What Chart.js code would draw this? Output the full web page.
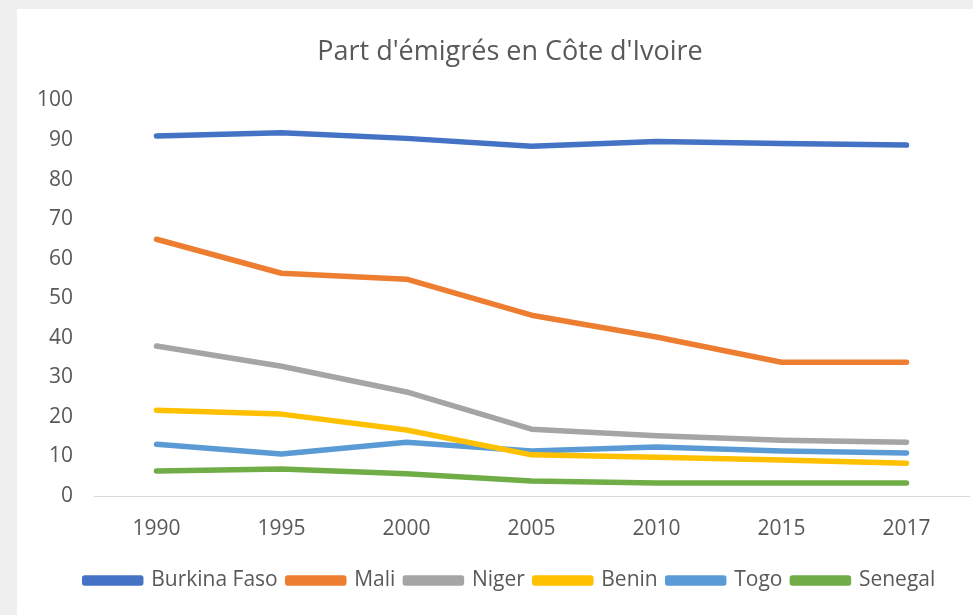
<!DOCTYPE html>
<html>
<head>
<meta charset="utf-8">
<script src="https://cdn.jsdelivr.net/npm/chart.js@4.4.0/dist/chart.umd.min.js"></script>
<style>
  html, body { margin: 0; padding: 0; background: #efefef; overflow: hidden; }
  #panel { position: absolute; left: 17px; top: 9px; width: 956px; height: 606px; background: #fff; overflow: hidden; }
</style>
</head>
<body>
<div id="panel"><canvas id="line_chart" width="986" height="606"></canvas></div>
<script>
var years = ["1990", "1995", "2000", "2005", "2010", "2015", "2017"];
var burkinaFaso = [91.0, 91.8, 90.4, 88.4, 89.6, 89.1, 88.7];
var mali = [64.9, 56.3, 54.8, 45.7, 40.2, 33.8, 33.8];
var niger = [37.9, 32.8, 26.3, 16.9, 15.2, 14.1, 13.6];
var benin = [21.7, 20.7, 16.7, 10.4, 9.8, 9.1, 8.3];
var togo = [13.1, 10.6, 13.6, 11.4, 12.4, 11.4, 10.9];
var senegal = [6.3, 6.8, 5.6, 3.8, 3.3, 3.3, 3.3];

var textColor = '#595959';

function series(label, data, color) {
    return {
        label: label,
        data: data,
        borderColor: color,
        backgroundColor: color,
        borderWidth: 5.5,
        pointRadius: 0,
        tension: 0,
        borderCapStyle: 'round',
        borderJoinStyle: 'round'
    };
}

new Chart(document.getElementById("line_chart").getContext("2d"), {
    type: 'line',
    data: {
        labels: years,
        datasets: [
            series("Burkina Faso", burkinaFaso, '#4472C4'),
            series("Mali", mali, '#ED7D31'),
            series("Niger", niger, '#A5A5A5'),
            series("Benin", benin, '#FFC000'),
            series("Togo", togo, '#5B9BD5'),
            series("Senegal", senegal, '#70AD47')
        ]
    },
    options: {
        responsive: false,
        animation: false,
        layout: { padding: { left: 0, right: 0, top: 0, bottom: 14 } },
        plugins: {
            title: {
                display: true,
                text: "Part d'émigrés en Côte d'Ivoire",
                color: textColor,
                font: { family: 'Open Sans', size: 27, weight: 'normal' },
                padding: { top: 27, bottom: 32 }
            },
            legend: {
                position: 'bottom',
                labels: {
                    color: textColor,
                    font: { family: 'Open Sans', size: 21 },
                    boxWidth: 56,
                    boxHeight: 5,
                    padding: 10
                }
            },
            tooltip: { enabled: false }
        },
        scales: {
            x: {
                offset: true,
                grid: { display: false, drawTicks: false },
                border: { display: true, color: '#d9d9d9', width: 1 },
                ticks: { color: textColor, font: { family: 'Open Sans', size: 21 }, padding: 20 },
                afterFit: function (scale) { scale.height = 64; }
            },
            y: {
                min: 0,
                max: 100,
                grid: { display: false, drawTicks: false },
                border: { display: false },
                ticks: { stepSize: 10, color: textColor, font: { family: 'Open Sans', size: 21 }, padding: 21 },
                afterFit: function (scale) { scale.width = 77; }
            },
            // empty right-hand axis, only to leave the blank margin on the right
            yRight: {
                position: 'right',
                min: 0,
                max: 100,
                grid: { display: false, drawTicks: false },
                border: { display: false },
                ticks: { display: false },
                afterFit: function (scale) { scale.width = 34; }
            }
        }
    }
});
</script>
</body>
</html>
